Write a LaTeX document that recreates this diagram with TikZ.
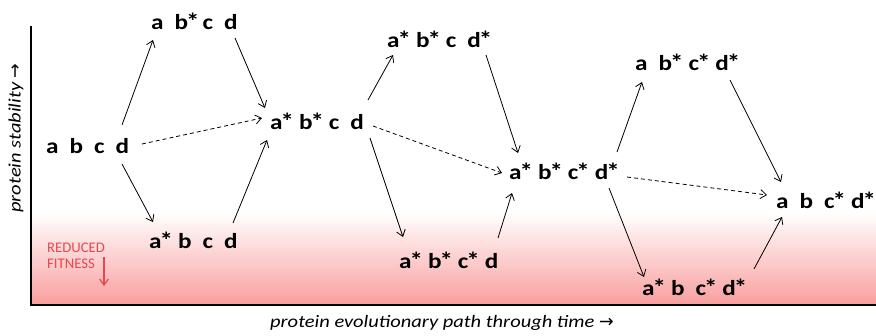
\documentclass[tikz,border=0pt]{standalone}
\usepackage{fontspec}
\setmainfont{Carlito}[FakeStretch=1.17]
\newfontfamily\notefont{Carlito}
\newfontfamily\arrowfont{DejaVu Sans}
\usetikzlibrary{arrows.meta}
\definecolor{fitpink}{RGB}{249,158,158}
\definecolor{fitred}{RGB}{232,72,78}
% a starred letter, spacing after a plain letter and after a starred one
\newcommand\st{\kern-2pt{\fontsize{23}{23}\selectfont *}}
\newcommand\gu{\hspace{11pt}}
\newcommand\gs{\hspace{5pt}}
\tikzset{
  geno/.style={font=\bfseries\fontsize{21.5}{21.5}\selectfont, inner sep=0pt, anchor=base west},
  mut/.style={-{Straight Barb[length=6pt,width=9pt]}, line width=0.8pt},
  bypass/.style={mut, dash pattern=on 4pt off 3pt},
  axis/.style={line width=2.2pt},
  axlabel/.style={font=\itshape\fontsize{17.5}{17.5}\selectfont, inner sep=0pt},
  note/.style={font=\notefont\fontsize{14.7}{16}\selectfont, text=fitred, inner sep=0pt, anchor=base west},
}
\begin{document}
\begin{tikzpicture}[x=1pt,y=-1pt]
\useasboundingbox (0,0) rectangle (876,335);
% reduced-fitness band
\shade[top color=white, bottom color=fitpink] (31,212) rectangle (876,305);
% axes
\draw[axis] (31,26) -- (31,305) -- (876,305);
\node[axlabel, rotate=90] (ylab) at (16,138) {protein stability {\arrowfont →}};
\node[axlabel, anchor=base west] (xlab) at (270,327) {protein evolutionary path through time {\arrowfont →}};
% fitness note
\node[note] (fit1) at (47,252) {REDUCED};
\node[note] (fit2) at (47,268) {FITNESS};
\coordinate (fitA) at (104,257);
\coordinate (fitB) at (104,286);
\draw[fitred, line width=1.2pt, -{Straight Barb[length=6pt,width=9pt]}] (fitA) -- (fitB);
% genotypes
\node[geno] (n0) at (46,153) {a\gu b\gu c\gu d};
\node[geno] (n1) at (151,29) {a\gu b\st\hspace{3pt}c\gu d};
\node[geno] (n2) at (149,248) {a\st\gs b\gu c\gu d};
\node[geno] (n3) at (270,129) {a\st\gs b\st\gs c\gu d};
\node[geno] (n4) at (387,47) {a\st\gs b\st\gs c\gu d\st};
\node[geno] (n5) at (399,268) {a\st\gs b\st\gs c\st\gs d};
\node[geno] (n6) at (509,179) {a\st\gs b\st\gs c\st\gs d\st};
\node[geno] (n7) at (635,70) {a\gu b\st\gs c\st\gs d\st};
\node[geno] (n8) at (642,295) {a\st\gs b\gu c\st\gs d\st};
\node[geno] (n9) at (776,208) {a\gu b\gu c\st\gs d\st};
% single mutations
\draw[mut] ([shift={(76,-28)}]n0.base west) -- ([shift={(2,11)}]n1.base west);
\draw[mut] ([shift={(76,11)}]n0.base west) -- ([shift={(4,-26)}]n2.base west);
\draw[mut] ([shift={(84,9)}]n1.base west) -- ([shift={(-5,-21)}]n3.base west);
\draw[mut] ([shift={(84,-25)}]n2.base west) -- ([shift={(-3,11)}]n3.base west);
\draw[mut] ([shift={(98,-29)}]n3.base west) -- ([shift={(6,8)}]n4.base west);
\draw[mut] ([shift={(100,9)}]n3.base west) -- ([shift={(4,-31)}]n5.base west);
\draw[mut] ([shift={(99,8)}]n4.base west) -- ([shift={(9,-26)}]n6.base west);
\draw[mut] ([shift={(99,-30)}]n5.base west) -- ([shift={(3,14)}]n6.base west);
\draw[mut] ([shift={(108,-27)}]n6.base west) -- ([shift={(7,12)}]n7.base west);
\draw[mut] ([shift={(100,9)}]n6.base west) -- ([shift={(2,-18)}]n8.base west);
\draw[mut] ([shift={(95,10)}]n7.base west) -- ([shift={(5,-26)}]n9.base west);
\draw[mut] ([shift={(112,-26)}]n8.base west) -- ([shift={(6,9)}]n9.base west);
% double-mutation shortcuts
\draw[bypass] ([shift={(96,-9)}]n0.base west) -- ([shift={(-8,-11)}]n3.base west);
\draw[bypass] ([shift={(103,-3)}]n3.base west) -- ([shift={(-7,-6)}]n6.base west);
\draw[bypass] ([shift={(118,-2)}]n6.base west) -- ([shift={(-9,-13)}]n9.base west);
\end{tikzpicture}
\end{document}
